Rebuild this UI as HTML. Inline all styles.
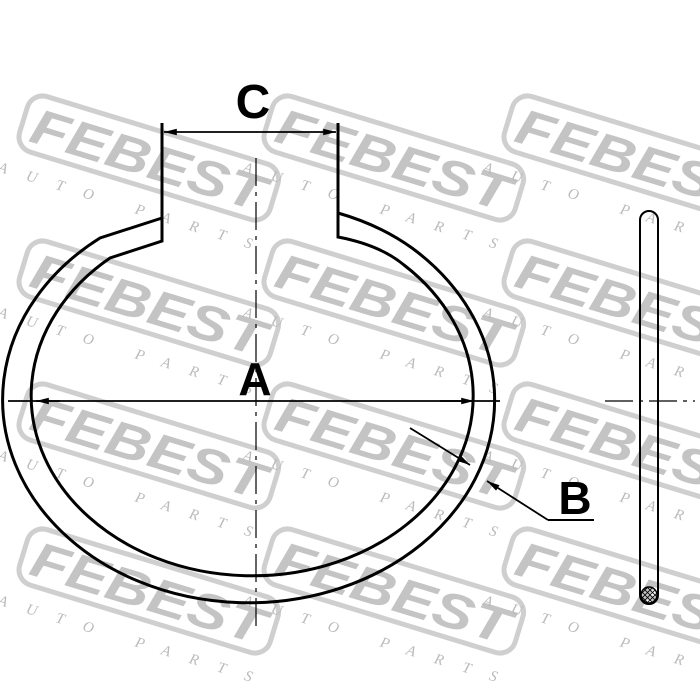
<!DOCTYPE html>
<html><head><meta charset="utf-8"><style>body{margin:0;background:#fff}svg{display:block}</style></head>
<body>
<svg width="700" height="700" viewBox="0 0 700 700" xmlns="http://www.w3.org/2000/svg" font-family="Liberation Sans, sans-serif">
<defs>
<marker id="ar" viewBox="0 0 16 10" refX="16" refY="5" markerWidth="16" markerHeight="8" orient="auto-start-reverse" markerUnits="userSpaceOnUse"><path d="M0,1 L16,5 L0,9 Z" fill="#000"/></marker>
<pattern id="hatch" width="5" height="5" patternUnits="userSpaceOnUse"><path d="M0,0 L5,5 M5,0 L0,5" stroke="#000" stroke-width="0.8"/></pattern>
<g id="logo">
</g>
</defs>
<g fill="#c4c4c4" stroke="none">
<g transform="translate(32,92) rotate(17)"><rect x="0" y="0" width="262" height="58" rx="16" fill="none" stroke="#cfcfcf" stroke-width="5"/><text x="10" y="48" font-size="50" font-weight="bold" font-style="italic" textLength="242" lengthAdjust="spacingAndGlyphs">FEBEST</text><text x="-10" y="86" font-size="15" font-family="Liberation Serif, serif" font-style="italic" textLength="265" fill="#bbb">AUTO PARTS</text></g>
<g transform="translate(277,92) rotate(17)"><rect x="0" y="0" width="262" height="58" rx="16" fill="none" stroke="#cfcfcf" stroke-width="5"/><text x="10" y="48" font-size="50" font-weight="bold" font-style="italic" textLength="242" lengthAdjust="spacingAndGlyphs">FEBEST</text><text x="-10" y="86" font-size="15" font-family="Liberation Serif, serif" font-style="italic" textLength="265" fill="#bbb">AUTO PARTS</text></g>
<g transform="translate(517,92) rotate(17)"><rect x="0" y="0" width="262" height="58" rx="16" fill="none" stroke="#cfcfcf" stroke-width="5"/><text x="10" y="48" font-size="50" font-weight="bold" font-style="italic" textLength="242" lengthAdjust="spacingAndGlyphs">FEBEST</text><text x="-10" y="86" font-size="15" font-family="Liberation Serif, serif" font-style="italic" textLength="265" fill="#bbb">AUTO PARTS</text></g>
<g transform="translate(32,237) rotate(17)"><rect x="0" y="0" width="262" height="58" rx="16" fill="none" stroke="#cfcfcf" stroke-width="5"/><text x="10" y="48" font-size="50" font-weight="bold" font-style="italic" textLength="242" lengthAdjust="spacingAndGlyphs">FEBEST</text><text x="-10" y="86" font-size="15" font-family="Liberation Serif, serif" font-style="italic" textLength="265" fill="#bbb">AUTO PARTS</text></g>
<g transform="translate(277,237) rotate(17)"><rect x="0" y="0" width="262" height="58" rx="16" fill="none" stroke="#cfcfcf" stroke-width="5"/><text x="10" y="48" font-size="50" font-weight="bold" font-style="italic" textLength="242" lengthAdjust="spacingAndGlyphs">FEBEST</text><text x="-10" y="86" font-size="15" font-family="Liberation Serif, serif" font-style="italic" textLength="265" fill="#bbb">AUTO PARTS</text></g>
<g transform="translate(517,237) rotate(17)"><rect x="0" y="0" width="262" height="58" rx="16" fill="none" stroke="#cfcfcf" stroke-width="5"/><text x="10" y="48" font-size="50" font-weight="bold" font-style="italic" textLength="242" lengthAdjust="spacingAndGlyphs">FEBEST</text><text x="-10" y="86" font-size="15" font-family="Liberation Serif, serif" font-style="italic" textLength="265" fill="#bbb">AUTO PARTS</text></g>
<g transform="translate(32,380) rotate(17)"><rect x="0" y="0" width="262" height="58" rx="16" fill="none" stroke="#cfcfcf" stroke-width="5"/><text x="10" y="48" font-size="50" font-weight="bold" font-style="italic" textLength="242" lengthAdjust="spacingAndGlyphs">FEBEST</text><text x="-10" y="86" font-size="15" font-family="Liberation Serif, serif" font-style="italic" textLength="265" fill="#bbb">AUTO PARTS</text></g>
<g transform="translate(277,380) rotate(17)"><rect x="0" y="0" width="262" height="58" rx="16" fill="none" stroke="#cfcfcf" stroke-width="5"/><text x="10" y="48" font-size="50" font-weight="bold" font-style="italic" textLength="242" lengthAdjust="spacingAndGlyphs">FEBEST</text><text x="-10" y="86" font-size="15" font-family="Liberation Serif, serif" font-style="italic" textLength="265" fill="#bbb">AUTO PARTS</text></g>
<g transform="translate(517,380) rotate(17)"><rect x="0" y="0" width="262" height="58" rx="16" fill="none" stroke="#cfcfcf" stroke-width="5"/><text x="10" y="48" font-size="50" font-weight="bold" font-style="italic" textLength="242" lengthAdjust="spacingAndGlyphs">FEBEST</text><text x="-10" y="86" font-size="15" font-family="Liberation Serif, serif" font-style="italic" textLength="265" fill="#bbb">AUTO PARTS</text></g>
<g transform="translate(32,525) rotate(17)"><rect x="0" y="0" width="262" height="58" rx="16" fill="none" stroke="#cfcfcf" stroke-width="5"/><text x="10" y="48" font-size="50" font-weight="bold" font-style="italic" textLength="242" lengthAdjust="spacingAndGlyphs">FEBEST</text><text x="-10" y="86" font-size="15" font-family="Liberation Serif, serif" font-style="italic" textLength="265" fill="#bbb">AUTO PARTS</text></g>
<g transform="translate(277,525) rotate(17)"><rect x="0" y="0" width="262" height="58" rx="16" fill="none" stroke="#cfcfcf" stroke-width="5"/><text x="10" y="48" font-size="50" font-weight="bold" font-style="italic" textLength="242" lengthAdjust="spacingAndGlyphs">FEBEST</text><text x="-10" y="86" font-size="15" font-family="Liberation Serif, serif" font-style="italic" textLength="265" fill="#bbb">AUTO PARTS</text></g>
<g transform="translate(517,525) rotate(17)"><rect x="0" y="0" width="262" height="58" rx="16" fill="none" stroke="#cfcfcf" stroke-width="5"/><text x="10" y="48" font-size="50" font-weight="bold" font-style="italic" textLength="242" lengthAdjust="spacingAndGlyphs">FEBEST</text><text x="-10" y="86" font-size="15" font-family="Liberation Serif, serif" font-style="italic" textLength="265" fill="#bbb">AUTO PARTS</text></g>
</g>
<g fill="none" stroke="#000">
<path d="M162,123 L162,241 L110,258 A221,180 0 1 0 404,265 Q380,245 338,237 L338,123" stroke-width="3"/>
<path d="M162,218 L100,238 A246,203 0 1 0 412,248 Q380,225 338,213" stroke-width="3"/>
<line x1="256" y1="158" x2="256" y2="630" stroke-width="1.2" stroke-dasharray="28,6,4,6"/>
<line x1="605" y1="401" x2="695" y2="401" stroke-width="1.2" stroke-dasharray="28,6,4,6"/>
<line x1="164" y1="132" x2="336" y2="132" stroke-width="1.8" marker-start="url(#ar)" marker-end="url(#ar)"/>
<line x1="8" y1="401" x2="500" y2="401" stroke-width="1.8"/>
<line x1="60" y1="401" x2="36" y2="401" stroke-width="1.8" marker-end="url(#ar)"/>
<line x1="440" y1="401" x2="474" y2="401" stroke-width="1.8" marker-end="url(#ar)"/>
<line x1="410" y1="428" x2="470" y2="465" stroke-width="1.8" marker-end="url(#ar)"/>
<line x1="548" y1="520" x2="487" y2="481" stroke-width="1.8" marker-end="url(#ar)"/>
<line x1="548" y1="520" x2="594" y2="520" stroke-width="2"/>
<path d="M640,220 A9,9 0 0 1 658,220 L658,595 A9,9 0 0 1 640,595 Z" stroke-width="2"/>
<circle cx="649" cy="595" r="8" fill="url(#hatch)" stroke-width="1.5"/>
</g>
<g font-weight="bold" fill="#000" text-anchor="middle">
<text x="253" y="118" font-size="48">C</text>
<text x="255" y="395" font-size="46">A</text>
<text x="575" y="514" font-size="46">B</text>
</g>
</svg>
</body></html>
